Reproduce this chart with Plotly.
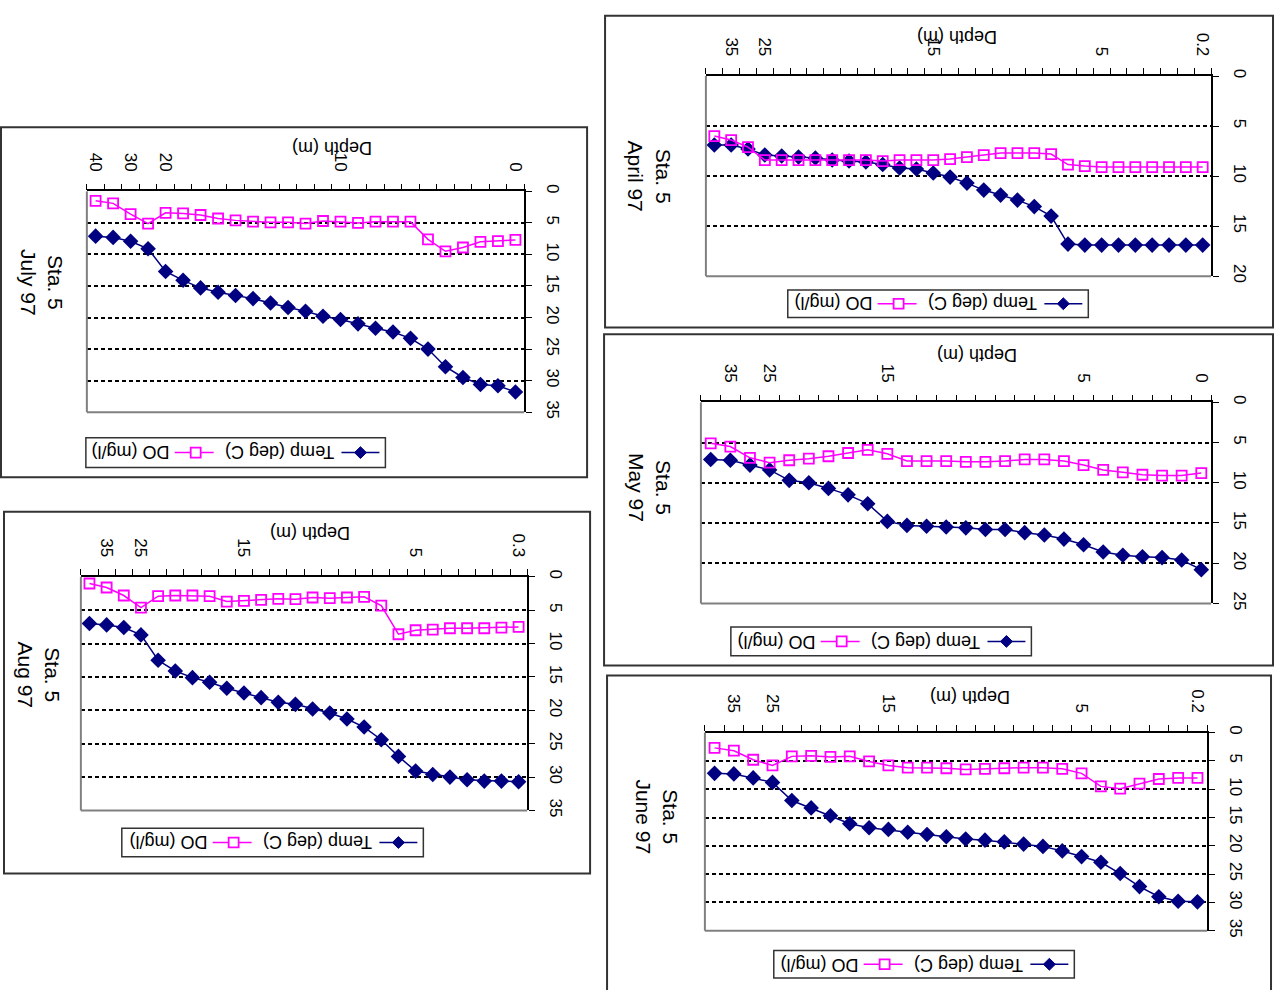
import plotly.graph_objects as go

W, H = 1282, 990
FONT = "Liberation Sans, Arial, Helvetica, sans-serif"
NAVY = "#000080"
MAGENTA = "#FF00FF"

# ---------------- data ----------------
# Depth category labels (m); blank entries are unlabeled sampling depths
apr_depth = ["0.2", "", "", "", "", "", "5", "", "", "", "", "", "", "", "", "",
             "15", "", "", "", "", "", "", "", "", "", "25", "", "35", ""]
apr_temp = [16.9, 16.9, 16.9, 16.9, 16.9, 16.9, 16.9, 16.9, 16.8, 14.0, 13.05, 12.4,
            11.9, 11.4, 10.7, 10.1, 9.7, 9.3, 9.2, 8.85, 8.6, 8.5, 8.4, 8.2, 8.1, 8.0,
            7.9, 7.3, 6.9, 6.9]
apr_do = [9.1, 9.1, 9.1, 9.1, 9.1, 9.1, 9.1, 9.0, 8.85, 7.8, 7.7, 7.7, 7.7, 7.9, 8.1,
          8.3, 8.4, 8.4, 8.4, 8.5, 8.4, 8.4, 8.4, 8.4, 8.4, 8.4, 8.4, 7.1, 6.4, 6.0]

may_depth = ["0", "", "", "", "", "", "5", "", "", "", "", "", "", "", "", "",
             "15", "", "", "", "", "", "25", "", "35", ""]
may_temp = [20.8, 19.6, 19.3, 19.2, 19.0, 18.6, 17.7, 17.0, 16.5, 16.2, 15.8, 15.8,
            15.6, 15.5, 15.4, 15.3, 14.8, 12.6, 11.5, 10.7, 10.0, 9.7, 8.4, 7.8, 7.2, 7.1]
may_do = [8.8, 9.1, 9.1, 9.0, 8.7, 8.4, 7.8, 7.3, 7.1, 7.1, 7.3, 7.4, 7.4, 7.3, 7.3,
          7.3, 6.4, 5.9, 6.3, 6.7, 7.0, 7.2, 7.5, 6.9, 5.5, 5.1]

jun_depth = ["0.2", "", "", "", "", "", "5", "", "", "", "", "", "", "", "", "",
             "15", "", "", "", "", "", "25", "", "35", ""]
jun_temp = [29.9, 29.8, 29.0, 27.2, 24.9, 22.9, 21.9, 20.9, 20.1, 19.7, 19.3, 19.0,
            18.8, 18.4, 18.0, 17.6, 17.1, 16.8, 16.1, 14.7, 13.3, 12.0, 8.8, 8.0, 7.3, 7.2]
jun_do = [8.0, 8.0, 8.2, 9.0, 9.9, 9.5, 7.2, 6.4, 6.2, 6.2, 6.3, 6.4, 6.5, 6.3, 6.2,
          6.2, 5.8, 5.1, 4.2, 4.3, 4.1, 4.2, 5.8, 4.8, 3.2, 2.7]

jul_depth = ["0", "", "", "", "", "", "", "", "", "", "10", "", "", "", "", "", "", "",
             "", "", "20", "", "30", "", "40"]
jul_temp = [31.8, 30.8, 30.6, 29.5, 27.8, 25.0, 23.3, 22.3, 21.7, 21.0, 20.3, 19.8,
            19.0, 18.4, 17.7, 17.0, 16.5, 16.0, 15.3, 14.1, 12.7, 9.1, 7.9, 7.3, 7.1]
jul_do = [7.7, 7.9, 8.0, 8.9, 9.5, 7.6, 4.8, 4.8, 4.8, 5.0, 4.8, 4.7, 5.1, 4.9, 4.9,
          4.8, 4.6, 4.3, 3.75, 3.5, 3.4, 5.1, 3.6, 1.9, 1.5]

aug_depth = ["0.3", "", "", "", "", "", "5", "", "", "", "", "", "", "", "", "",
             "15", "", "", "", "", "", "25", "", "35", ""]
aug_temp = [30.7, 30.6, 30.6, 30.4, 30.0, 29.6, 29.1, 26.9, 24.4, 22.5, 21.3, 20.4,
            19.8, 19.1, 18.8, 18.1, 17.4, 16.7, 15.8, 15.1, 14.1, 12.5, 8.7, 7.6, 7.2, 7.0]
aug_do = [7.5, 7.6, 7.7, 7.7, 7.7, 7.9, 8.0, 8.6, 4.3, 3.0, 3.1, 3.2, 3.1, 3.35, 3.3,
          3.45, 3.6, 3.7, 2.9, 2.8, 2.8, 2.9, 4.6, 2.8, 1.6, 1.0]

value_max = {"April 97": 20, "May 97": 25, "June 97": 35, "July 97": 35, "Aug 97": 35}

charts = [
    ("April 97", apr_depth, apr_temp, apr_do),
    ("May 97", may_depth, may_temp, may_do),
    ("June 97", jun_depth, jun_temp, jun_do),
    ("July 97", jul_depth, jul_temp, jul_do),
    ("Aug 97", aug_depth, aug_temp, aug_do),
]

# ---------------- page layout (pixels) ----------------
# plot box (x0, x1, y0, y1), outer frame, title centre, "Depth (m)" centre, legend box
panel_boxes = {
    "April 97": dict(plot=(706, 1212, 70, 273), frame=(605, 1274, 9, 325),
                     title=(650, 172), depth=(958, 31), legend=(788, 1089, 287, 315)),
    "May 97": dict(plot=(701, 1212, 401, 605), frame=(604, 1274, 332, 668),
                   title=(650, 488), depth=(977, 353), legend=(731, 1032, 629, 658)),
    "June 97": dict(plot=(705, 1208, 736, 937), frame=(607, 1272, 678, 1000),
                    title=(657, 822), depth=(970, 700), legend=(774, 1075, 957, 985)),
    "July 97": dict(plot=(86, 524, 187, 411), frame=(0, 587, 122, 477),
                    title=(41, 280), depth=(331, 143), legend=(85, 385, 437, 467)),
    "Aug 97": dict(plot=(80, 527, 578, 815), frame=(3, 590, 512, 879),
                   title=(38, 678), depth=(310, 533), legend=(121, 423, 833, 862)),
}


def px(x):
    return x / W


def py(y):
    return 1 - y / H


fig = go.Figure()
shapes = []
annotations = []

for k, (month, depth, temp, do) in enumerate(charts, start=1):
    box = panel_boxes[month]
    x0, x1, y0, y1 = box["plot"]
    xa = "x" if k == 1 else f"x{k}"
    ya = "y" if k == 1 else f"y{k}"
    n = len(depth)
    idx = list(range(n))

    fig.add_trace(go.Scatter(
        x=idx, y=temp, xaxis=xa, yaxis=ya, mode="lines+markers", name="Temp (deg C)",
        line=dict(color=NAVY, width=1.5),
        marker=dict(symbol="diamond", size=12, color=NAVY),
        showlegend=False, cliponaxis=False))
    fig.add_trace(go.Scatter(
        x=idx, y=do, xaxis=xa, yaxis=ya, mode="lines+markers", name="DO (mg/l)",
        line=dict(color=MAGENTA, width=1.5),
        marker=dict(symbol="square-open", size=10, color=MAGENTA, line=dict(width=1.8)),
        showlegend=False, cliponaxis=False))

    label_pos = [i for i, t in enumerate(depth) if t]
    xkey = "xaxis" if k == 1 else f"xaxis{k}"
    ykey = "yaxis" if k == 1 else f"yaxis{k}"
    fig.update_layout(**{
        xkey: dict(
            domain=[px(x0), px(x1)], anchor=ya, side="top",
            range=[n - 0.5, -0.5], showgrid=False, zeroline=False,
            showline=True, linecolor="black", linewidth=1.5,
            tickmode="array", tickvals=label_pos, ticktext=[depth[i] for i in label_pos],
            ticks="", tickangle=90, tickfont=dict(family=FONT, size=17, color="black"),
            ticklabelstandoff=12,
            minor=dict(tickmode="array", tickvals=[i - 0.5 for i in range(n + 1)],
                       ticks="outside", ticklen=6, tickwidth=1.2, tickcolor="black",
                       showgrid=False),
        ),
        ykey: dict(
            domain=[py(y1), py(y0)], anchor=xa, side="right",
            range=[value_max[month], 0], dtick=5, tick0=0,
            showgrid=True, gridcolor="black", gridwidth=2, griddash="4px,3px",
            zeroline=False, showline=True, linecolor="black", linewidth=1.5,
            ticks="outside", ticklen=6, tickwidth=1.2, tickcolor="black",
            tickangle=90, tickfont=dict(family=FONT, size=17, color="black"),
            ticklabelstandoff=8,
        ),
    })

    # grey plot-area border on the two open sides
    shapes.append(dict(type="line", xref=f"{xa} domain", yref=f"{ya} domain",
                       x0=0, x1=0, y0=0, y1=1, line=dict(color="#808080", width=2)))
    shapes.append(dict(type="line", xref=f"{xa} domain", yref=f"{ya} domain",
                       x0=0, x1=1, y0=0, y1=0, line=dict(color="#808080", width=2)))

    # outer chart frame
    fx0, fx1, fy0, fy1 = box["frame"]
    shapes.append(dict(type="rect", xref="paper", yref="paper",
                       x0=px(fx0), x1=px(fx1), y0=py(fy1), y1=py(fy0),
                       line=dict(color="#333333", width=2), layer="below"))

    # station title and depth axis title
    tx, ty = box["title"]
    annotations.append(dict(x=px(tx), y=py(ty), xref="paper", yref="paper",
                            text=f"Sta. 5<br>{month}", textangle=90, showarrow=False,
                            font=dict(family=FONT, size=21, color="black"),
                            xanchor="center", yanchor="middle", align="center"))
    dx, dy = box["depth"]
    annotations.append(dict(x=px(dx), y=py(dy), xref="paper", yref="paper",
                            text="Depth (m)", textangle=180, showarrow=False,
                            font=dict(family=FONT, size=18, color="black"),
                            xanchor="center", yanchor="middle"))

    # legend box, drawn upside down like the rest of the chart
    lx0, lx1, ly0, ly1 = box["legend"]
    shapes.append(dict(type="rect", xref="paper", yref="paper",
                       x0=px(lx0), x1=px(lx1), y0=py(ly1), y1=py(ly0),
                       line=dict(color="#333333", width=1.5), fillcolor="white"))
    cy = (ly0 + ly1) / 2
    # temperature sample: line + filled diamond
    shapes.append(dict(type="line", xref="paper", yref="paper",
                       x0=px(lx1 - 44), x1=px(lx1 - 6), y0=py(cy), y1=py(cy),
                       line=dict(color=NAVY, width=1.5)))
    mx = lx1 - 25
    shapes.append(dict(type="path", xref="paper", yref="paper",
                       path=f"M {px(mx - 6)},{py(cy)} L {px(mx)},{py(cy - 6)} "
                            f"L {px(mx + 6)},{py(cy)} L {px(mx)},{py(cy + 6)} Z",
                       fillcolor=NAVY, line=dict(color=NAVY, width=1)))
    annotations.append(dict(x=px(lx1 - 106), y=py(cy), xref="paper", yref="paper",
                            text="Temp (deg C)", textangle=180, showarrow=False,
                            font=dict(family=FONT, size=18, color="black"),
                            xanchor="center", yanchor="middle"))
    # oxygen sample: line + open square
    shapes.append(dict(type="line", xref="paper", yref="paper",
                       x0=px(lx1 - 211), x1=px(lx1 - 172), y0=py(cy), y1=py(cy),
                       line=dict(color=MAGENTA, width=1.5)))
    sx = lx1 - 190
    shapes.append(dict(type="rect", xref="paper", yref="paper",
                       x0=px(sx - 5), x1=px(sx + 5), y0=py(cy + 5), y1=py(cy - 5),
                       fillcolor="white", line=dict(color=MAGENTA, width=1.8)))
    annotations.append(dict(x=px(lx1 - 255), y=py(cy), xref="paper", yref="paper",
                            text="DO (mg/l)", textangle=180, showarrow=False,
                            font=dict(family=FONT, size=18, color="black"),
                            xanchor="center", yanchor="middle"))

fig.update_layout(
    width=W, height=H, margin=dict(l=0, r=0, t=0, b=0),
    paper_bgcolor="white", plot_bgcolor="white",
    showlegend=False, shapes=shapes, annotations=annotations,
    font=dict(family=FONT, color="black"),
)

fig.write_html("out.html")
